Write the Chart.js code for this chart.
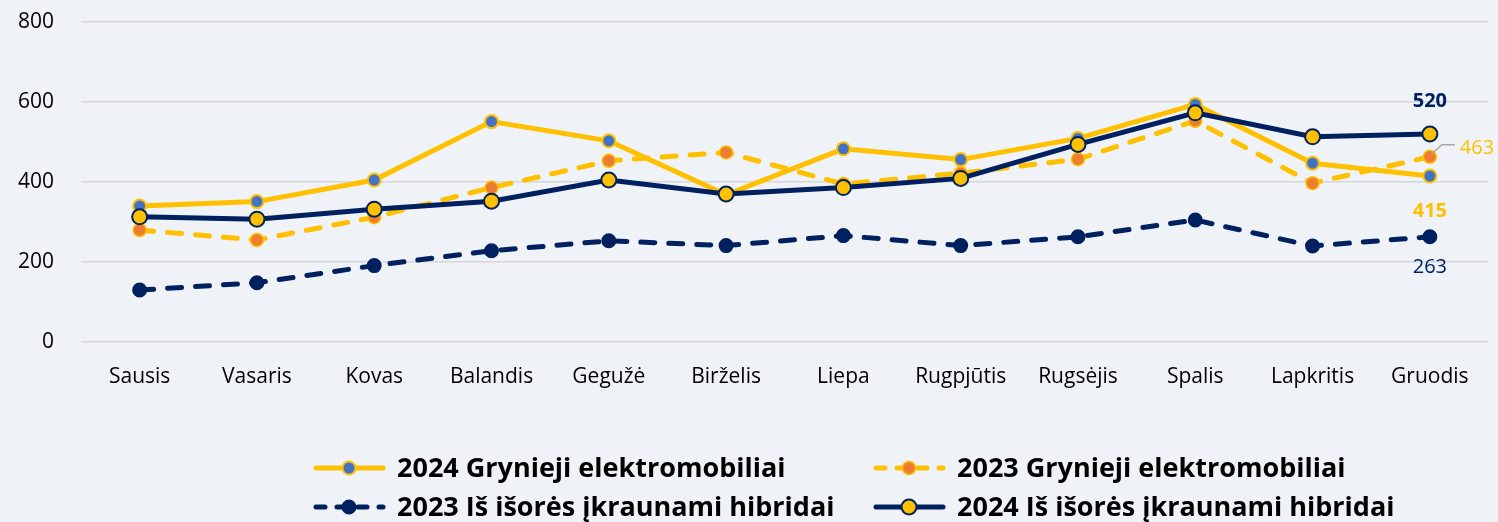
<!DOCTYPE html>
<html>
<head>
<meta charset="utf-8">
<script src="https://cdn.jsdelivr.net/npm/chart.js@4/dist/chart.umd.min.js"></script>
<style>
  html, body { margin: 0; padding: 0; background: #EFF3F7; }
  #wrap { width: 1498px; height: 522px; }
</style>
</head>
<body>
<div id="wrap"><canvas id="our-chart" width="1498" height="522"></canvas></div>
<script>
// Data
const months = ['Sausis', 'Vasaris', 'Kovas', 'Balandis', 'Gegužė', 'Birželis', 'Liepa', 'Rugpjūtis', 'Rugsėjis', 'Spalis', 'Lapkritis', 'Gruodis'];
const ev2024 = [340, 351, 405, 551, 503, 368, 483, 456, 509, 594, 447, 415];
const ev2023 = [280, 255, 312, 386, 453, 474, 395, 422, 457, 553, 397, 463];
const phev2023 = [130, 148, 191, 228, 253, 241, 266, 241, 263, 305, 240, 263];
const phev2024 = [313, 307, 332, 352, 405, 370, 386, 409, 494, 573, 513, 520];
const yTicks = [0, 200, 400, 600, 800];

const YELLOW = '#FFC000';
const NAVY = '#002060';
const BLUE = '#4472C4';
const ORANGE = '#ED7D31';
const FONT = "'Open Sans', 'Noto Sans', sans-serif";

// labels at the last point (index 11)
const endLabels = [
  { ds: 0, text: '415', color: YELLOW, bold: true, dx: 0, dy: 35, align: 'center' },
  { ds: 1, text: '463', color: YELLOW, bold: false, dx: 30, dy: -9, align: 'left', leader: true },
  { ds: 2, text: '263', color: NAVY, bold: false, dx: 0, dy: 30, align: 'center' },
  { ds: 3, text: '520', color: NAVY, bold: true, dx: 0, dy: -33, align: 'center' }
];

const endLabelPlugin = {
  id: 'endLabels',
  afterDatasetsDraw(chart) {
    const ctx = chart.ctx;
    ctx.save();
    ctx.textBaseline = 'middle';
    endLabels.forEach(l => {
      const pt = chart.getDatasetMeta(l.ds).data[11];
      const x = pt.x + l.dx, y = pt.y + l.dy;
      if (l.leader) {
        ctx.strokeStyle = '#A6A6A6';
        ctx.lineWidth = 1.5;
        ctx.beginPath();
        ctx.moveTo(pt.x + 2, pt.y - 3);
        ctx.lineTo(pt.x + 12, pt.y - 12);
        ctx.lineTo(pt.x + 25, pt.y - 12);
        ctx.stroke();
      }
      ctx.font = (l.bold ? 'bold ' : '') + '20px ' + FONT;
      ctx.fillStyle = l.color;
      ctx.textAlign = l.align;
      ctx.fillText(l.text, x, y);
    });
    ctx.restore();
  }
};

// legend laid out in two columns like the original
const legendOrder = [0, 1, 2, 3];
const legendPos = [[313, 468], [873, 468], [313, 507], [873, 507]];

const legendPlugin = {
  id: 'colLegend',
  afterDraw(chart) {
    const ctx = chart.ctx;
    ctx.save();
    legendOrder.forEach((dsIndex, k) => {
      const ds = chart.data.datasets[dsIndex];
      const [x, y] = legendPos[k];
      ctx.strokeStyle = ds.borderColor;
      ctx.lineWidth = ds.borderWidth;
      ctx.lineCap = 'round';
      ctx.setLineDash(ds.borderDash ? [9, 12] : []);
      ctx.beginPath();
      ctx.moveTo(x + 3, y);
      ctx.lineTo(x + 70, y);
      ctx.stroke();
      ctx.setLineDash([]);
      ctx.beginPath();
      ctx.arc(x + 36, y, ds.pointRadius, 0, Math.PI * 2);
      ctx.fillStyle = ds.pointBackgroundColor;
      ctx.fill();
      ctx.lineWidth = ds.pointBorderWidth;
      ctx.strokeStyle = ds.pointBorderColor;
      ctx.stroke();
      ctx.font = 'bold 27px ' + FONT;
      ctx.fillStyle = '#000';
      ctx.textAlign = 'left';
      ctx.textBaseline = 'middle';
      ctx.fillText(ds.label, x + 84, y + 1);
    });
    ctx.restore();
  }
};

const ctx = document.getElementById('our-chart').getContext('2d');
const myChart = new Chart(ctx, {
  type: 'line',
  data: {
    labels: months,
    datasets: [{
      label: '2024 Grynieji elektromobiliai',
      data: ev2024,
      borderColor: YELLOW,
      borderWidth: 5,
      pointRadius: 6.5,
      pointBackgroundColor: BLUE,
      pointBorderColor: YELLOW,
      pointBorderWidth: 2,
      order: 1
    }, {
      label: '2023 Grynieji elektromobiliai',
      data: ev2023,
      borderColor: YELLOW,
      borderWidth: 5,
      borderDash: [14, 14],
      borderCapStyle: 'round',
      pointRadius: 6.5,
      pointBackgroundColor: ORANGE,
      pointBorderColor: YELLOW,
      pointBorderWidth: 1.5,
      order: 2
    }, {
      label: '2023 Iš išorės įkraunami hibridai',
      data: phev2023,
      borderColor: NAVY,
      borderWidth: 5,
      borderDash: [14, 14],
      borderCapStyle: 'round',
      pointRadius: 6.5,
      pointBackgroundColor: NAVY,
      pointBorderColor: NAVY,
      pointBorderWidth: 2,
      order: 3
    }, {
      label: '2024 Iš išorės įkraunami hibridai',
      data: phev2024,
      borderColor: NAVY,
      borderWidth: 5,
      pointRadius: 7.5,
      pointBackgroundColor: YELLOW,
      pointBorderColor: NAVY,
      pointBorderWidth: 2,
      order: 0
    }]
  },
  options: {
    responsive: false,
    animation: false,
    layout: { padding: { top: 22, right: 6, left: 0, bottom: 0 } },
    plugins: {
      legend: { display: false },
      tooltip: { enabled: false }
    },
    scales: {
      x: {
        offset: true,
        grid: { display: false },
        border: { display: false },
        ticks: { color: '#000', font: { family: FONT, size: 21 }, padding: 14 },
        afterFit: s => { s.height = 180; s.paddingLeft = 0; s.paddingRight = 0; }
      },
      y: {
        min: 0,
        max: 800,
        afterBuildTicks: s => { s.ticks = yTicks.map(v => ({ value: v })); },
        grid: { color: '#D6D6D6', lineWidth: 1.5, drawTicks: false },
        border: { display: false },
        ticks: { color: '#000', font: { family: FONT, size: 21 }, padding: 27 },
        afterFit: s => { s.width = 81; s.paddingTop = 0; s.paddingBottom = 0; }
      }
    }
  },
  plugins: [endLabelPlugin, legendPlugin]
});
</script>
</body>
</html>
